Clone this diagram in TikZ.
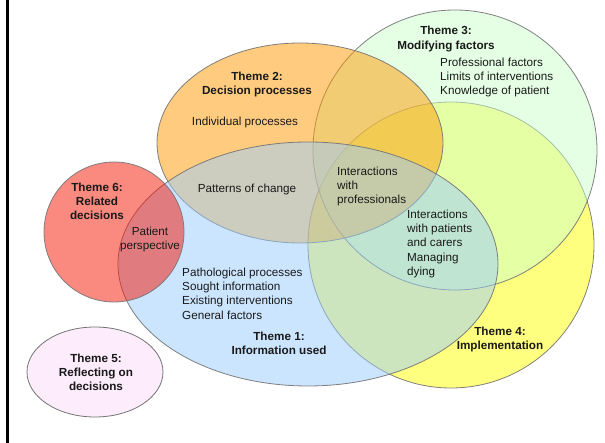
\documentclass[tikz,border=0pt]{standalone}
\usepackage{fontspec}
\setmainfont{Liberation Sans}
\definecolor{cGreen}{RGB}{204,255,204}
\definecolor{cYellow}{RGB}{255,255,0}
\definecolor{cOrange}{RGB}{255,153,0}
\definecolor{cBlue}{RGB}{153,204,255}
\definecolor{cRed}{RGB}{245,20,0}
\definecolor{cPink}{RGB}{252,236,252}
\definecolor{cLine}{RGB}{115,115,115}
\definecolor{cText}{RGB}{25,25,25}
\tikzset{
  venn/.style={draw=cLine, line width=0.8pt, fill opacity=0.5, draw opacity=0.9},
  lbl/.style={inner sep=0pt, text=cText, font=\fontsize{11.7}{14.3}\selectfont},
  head/.style={lbl, align=center, font=\fontsize{11.7}{14.3}\selectfont\bfseries},
  items/.style={lbl, align=left, anchor=north west},
}
\begin{document}
\begin{tikzpicture}[x=1pt,y=-1pt]
\useasboundingbox (0,0) rectangle (605,443);
\fill[black] (6,0) rectangle (9,443);
% ellipses
\draw[venn, fill=cYellow] (451,245) ellipse [x radius=143, y radius=143];
\draw[venn, fill=cGreen] (455,150) ellipse [x radius=142, y radius=140];
\draw[venn, fill=cOrange] (300,143) ellipse [x radius=143, y radius=100];
\draw[venn, fill=cBlue] (308,264) ellipse [x radius=190, y radius=122];
\draw[venn, fill=cRed] (114,232) ellipse [x radius=70, y radius=70];
\draw[draw=cLine, line width=0.8pt, fill=cPink] (95,372) ellipse [x radius=68, y radius=45];
% labels
\node[head] (t3) at (446,39) {Theme 3:\\Modifying factors};
\node[items] (t3i) at (440,57.5) {Professional factors\\Limits of interventions\\Knowledge of patient};
\node[head] (t2) at (257,84.5) {Theme 2:\\Decision processes};
\node[lbl] (indiv) at (245,122.5) {Individual processes};
\node[lbl] (patterns) at (247,189.5) {Patterns of change};
\node[items] (prof) at (337,166.5) {Interactions\\with\\professionals};
\node[items] (pat) at (407,209.5) {Interactions\\with patients\\and carers\\Managing\\dying};
\node[head] (t6) at (97,201.5) {Theme 6:\\Related\\decisions};
\node[lbl, align=center] (pp) at (150,239.5) {Patient\\perspective};
\node[items] (t1i) at (182,267.5) {Pathological processes\\Sought information\\Existing interventions\\General factors};
\node[head] (t1) at (279,343.5) {Theme 1:\\Information used};
\node[head] (t4) at (500,339.5) {Theme 4:\\Implementation};
\node[head] (t5) at (96,372.5) {Theme 5:\\Reflecting on\\decisions};
\end{tikzpicture}
\end{document}
